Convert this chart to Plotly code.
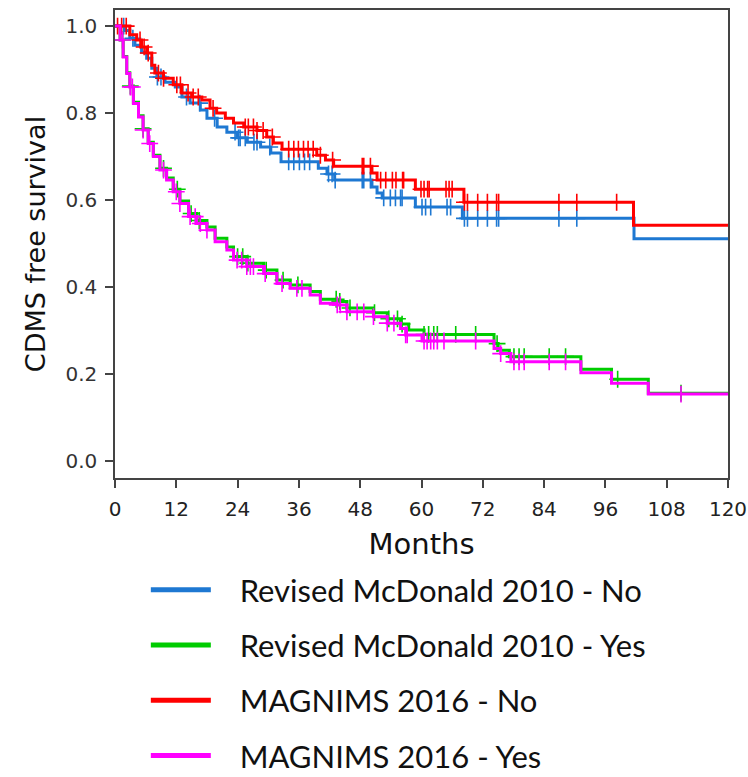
import numpy as np
import plotly.graph_objects as go

# ---------------- data ----------------
series_names = ["Revised McDonald 2010 - No", "Revised McDonald 2010 - Yes",
                "MAGNIMS 2016 - No", "MAGNIMS 2016 - Yes"]
series_colors = ["#1E78D2", "#00CC00", "#FF0000", "#FF00FF"]

mcd_no_t = [0, 2.0, 2.9, 3.9, 5.2, 6.2, 7.2, 8.2, 9.8, 11.8, 13.1, 14.7, 16.7, 18, 20, 21.9,
            23.9, 25.9, 28.5, 30.5, 32.5, 39.8, 41.5, 43, 50.3, 51.3, 52.3, 58.8, 68, 101.6]
mcd_no_s = [1.0, 0.99, 0.972, 0.956, 0.94, 0.926, 0.903, 0.883, 0.871, 0.86, 0.837, 0.823,
            0.807, 0.788, 0.768, 0.756, 0.743, 0.733, 0.722, 0.708, 0.688, 0.673, 0.66, 0.646,
            0.63, 0.616, 0.605, 0.584, 0.558, 0.511]
mcd_no_cens = [1.7, 3.5, 8.3, 9.0, 14, 16.6, 19.5, 23.5, 24.2, 24.5, 25.5, 27.2, 27.8, 30.3,
               34, 35, 36.1, 37.1, 38.1, 41.8, 42.5, 43.1, 48.4, 48.7, 50, 52.6, 53.9, 54.9,
               55.9, 56.2, 60.1, 60.8, 61.8, 65, 65.7, 68.4, 69, 71, 72.9, 74.7, 75.1, 86.9, 90.4]

mcd_yes_t = [0, 1.0, 1.6, 2.3, 2.9, 3.6, 4.6, 5.5, 6.5, 7.5, 8.8, 10.1, 11.4, 12.7, 14.4, 16,
             18, 19.6, 21.9, 23.2, 25.8, 29.1, 31.7, 34.3, 38.2, 40.2, 43.5, 45.4, 50.6, 53.3,
             55.9, 57.5, 60.5, 74.2, 75.0, 77.2, 91.2, 97.2, 104.4]
mcd_yes_s = [1.0, 0.968, 0.93, 0.893, 0.862, 0.825, 0.794, 0.764, 0.733, 0.703, 0.673, 0.651,
             0.625, 0.598, 0.569, 0.553, 0.538, 0.512, 0.492, 0.47, 0.455, 0.439, 0.416, 0.405,
             0.39, 0.372, 0.367, 0.352, 0.341, 0.327, 0.315, 0.301, 0.291, 0.27, 0.255, 0.24,
             0.211, 0.188, 0.156]
mcd_yes_cens = [1.5, 3.0, 5.5, 9.5, 12.2, 14.9, 16.5, 24.0, 25.0, 26.0, 29.6, 32.9, 35.8,
                43.3, 44.0, 46.0, 50.8, 53.6, 55.3, 56.2, 60.5, 61.4, 62.4, 63.1, 66.7, 70.6,
                74.8, 78.1, 79.1, 80.1, 85, 88.2, 98.4, 110.8]

mag_no_t = [0, 2.9, 4.25, 5.2, 6.2, 7.2, 7.8, 9.5, 11.4, 13.1, 15, 17, 18.6, 19.9, 21.6, 23.2,
            25.2, 27.8, 29.7, 31, 32.7, 39.5, 41.2, 42.8, 50.3, 51.3, 58.8, 68.3, 101.5]
mag_no_s = [1.0, 0.98, 0.968, 0.952, 0.938, 0.91, 0.892, 0.88, 0.865, 0.846, 0.837, 0.83,
            0.811, 0.80, 0.788, 0.777, 0.768, 0.76, 0.745, 0.731, 0.717, 0.703, 0.692, 0.678,
            0.662, 0.646, 0.625, 0.595, 0.542]
mag_no_cens = [0.5, 1.3, 2.2, 4.9, 5.7, 6.5, 8.5, 9.5, 12.1, 12.8, 14.3, 15.3, 16.3, 19.2,
               25.5, 26.1, 27.1, 27.8, 29, 30.8, 34, 35, 35.9, 36.9, 37.8, 38.8, 40.2, 42.6,
               48.4, 48.7, 50, 52, 53, 54.3, 55, 56.3, 56.5, 59.9, 60.5, 61.2, 61.5, 64.8,
               65.4, 66, 68.4, 69, 71, 72.9, 74.7, 75.1, 86.9, 90.4, 98.2]

mag_yes_t = [0, 1.0, 1.6, 2.3, 2.9, 3.6, 4.6, 5.5, 6.5, 7.5, 8.8, 10.1, 11.4, 12.7, 14.4, 16,
             18, 19.6, 21.9, 23.2, 25.8, 29.1, 31.7, 34.3, 38.2, 40.2, 43.5, 45.4, 50.6, 53.3,
             55.9, 56.9, 60.1, 74.2, 75.5, 77.5, 91.2, 97.2, 104.4]
mag_yes_s = [1.0, 0.968, 0.929, 0.891, 0.86, 0.822, 0.791, 0.761, 0.73, 0.7, 0.669, 0.646,
             0.619, 0.592, 0.562, 0.546, 0.531, 0.504, 0.485, 0.462, 0.447, 0.431, 0.408,
             0.397, 0.382, 0.363, 0.359, 0.343, 0.332, 0.317, 0.305, 0.29, 0.276, 0.259,
             0.247, 0.228, 0.203, 0.179, 0.154]
mag_yes_cens = [1.5, 3.0, 3.4, 5.5, 6.8, 9.5, 12.0, 12.7, 14.7, 15.7, 16.7, 18.0, 23.9, 24.8,
                25.8, 26.5, 27.1, 29.4, 32.7, 35.6, 36.6, 43.5, 44.1, 45.4, 47.4, 48.7, 50.6,
                53.3, 54.6, 56.9, 57.2, 60.5, 61.1, 61.8, 62.4, 63.1, 64.4, 70.6, 75.5, 78.1,
                79.1, 80.1, 85, 88.2, 110.8]

x_ticks = [0, 12, 24, 36, 48, 60, 72, 84, 96, 108, 120]
y_ticks = [0.0, 0.2, 0.4, 0.6, 0.8, 1.0]
x_end = 120

curves = [
    (mcd_no_t, mcd_no_s, mcd_no_cens),
    (mcd_yes_t, mcd_yes_s, mcd_yes_cens),
    (mag_no_t, mag_no_s, mag_no_cens),
    (mag_yes_t, mag_yes_s, mag_yes_cens),
]

fig = go.Figure()

for (t, s, c), name, col in zip(curves, series_names, series_colors):
    t = np.asarray(t, float)
    s = np.asarray(s, float)
    xs = np.append(t, x_end)
    ys = np.append(s, s[-1])
    fig.add_trace(go.Scatter(x=xs, y=ys, mode="lines", line=dict(color=col, width=3, shape="hv"),
                             showlegend=False, hoverinfo="skip"))
    c = np.asarray(c, float)
    idx = np.searchsorted(t, c, side="right") - 1
    fig.add_trace(go.Scatter(x=c, y=s[idx], mode="markers",
                             marker=dict(symbol="cross-thin", size=12,
                                         line=dict(color=col, width=1.6)),
                             showlegend=False, hoverinfo="skip"))

# legend entries
pad = "\u00a0" * 3
for i, (name, col) in enumerate(zip(series_names, series_colors)):
    fig.add_trace(go.Scatter(x=[None], y=[None], mode="lines", name=pad + name,
                             line=dict(color=col, width=5), legendgroup=f"g{i}"))

axis_color = "#444444"
axis_font = "DejaVu Sans, Liberation Sans, Arial, sans-serif"
fig.update_layout(
    width=748, height=777,
    margin=dict(l=115, r=20, t=10, b=299, autoexpand=False),
    plot_bgcolor="white", paper_bgcolor="white",
    font=dict(family=axis_font, color="#222222"),
    xaxis=dict(range=[0, 120], tickvals=x_ticks, ticktext=[str(v) for v in x_ticks],
               showgrid=False, zeroline=False, showline=True, mirror=True,
               linecolor=axis_color, linewidth=1.5, ticks="outside", ticklen=8,
               tickwidth=1.5, tickcolor=axis_color, ticklabelstandoff=4,
               tickfont=dict(size=20, family=axis_font, color="#222222"),
               title=dict(text="Months", font=dict(size=29, family=axis_font, color="#111111"),
                          standoff=14)),
    yaxis=dict(range=[-0.039, 1.037], tickvals=y_ticks, ticktext=[f"{v:.1f}" for v in y_ticks],
               showgrid=False, zeroline=False, showline=True, mirror=True,
               linecolor=axis_color, linewidth=1.5, ticks="outside", ticklen=8,
               tickwidth=1.5, tickcolor=axis_color, ticklabelstandoff=4,
               tickfont=dict(size=20, family=axis_font, color="#333333"),
               title=dict(text="CDMS free survival",
                          font=dict(size=27, family=axis_font, color="#111111"), standoff=12)),
    legend=dict(x=0.0503, y=-0.1816, xanchor="left", yanchor="top",
                font=dict(family="Lato, Open Sans, sans-serif", size=31, color="#111111"),
                itemwidth=60, tracegroupgap=12, bgcolor="rgba(0,0,0,0)"),
)

fig.write_html(
    "out.html",
    config={"displayModeBar": False},
    post_script=("document.body.style.margin='0';"
                 "document.body.style.overflow='hidden';"
                 "document.documentElement.style.overflow='hidden';"),
)
